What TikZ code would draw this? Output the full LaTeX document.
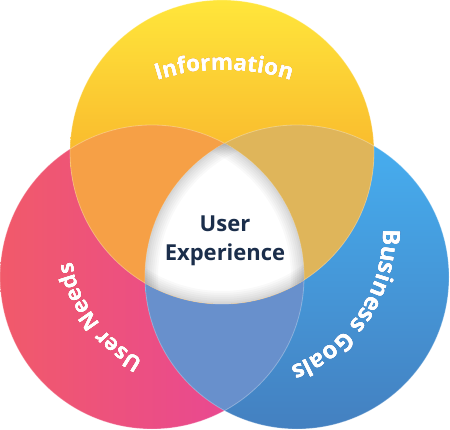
\documentclass[tikz,border=0pt]{standalone}
\usepackage{fontspec}
\newfontfamily\osb{Open Sans}
\usetikzlibrary{decorations.text}
\definecolor{yelTop}{HTML}{FFE63B}
\definecolor{yelMid}{HTML}{F8A22C}
\definecolor{yelBot}{HTML}{F39020}
\definecolor{pinkL}{HTML}{F15A6A}
\definecolor{pinkR}{HTML}{E6439E}
\definecolor{blueT}{HTML}{46B0F2}
\definecolor{blueB}{HTML}{4480C0}
\definecolor{ovTL}{HTML}{F6A046}
\definecolor{ovTR}{HTML}{DFB55A}
\definecolor{ovLR}{HTML}{6890CC}
\definecolor{navy}{HTML}{1B2E4B}
\definecolor{outOr}{HTML}{EC9A22}
\definecolor{outRed}{HTML}{D8202F}
\definecolor{outBlue}{HTML}{1E5FB0}
% #1 centre, #2 radius, #3 start angle, #4 end angle, #5 text, #6 outline colour, #7 font size
\newcommand\arctext[7]{%
  \foreach \dx/\dy in {0.9/0,-0.9/0,0/0.9,0/-0.9,0.7/0.7,-0.7/0.7,0.7/-0.7,-0.7/-0.7}{%
    \path[shift={(\dx,\dy)},decorate,decoration={text along path,text align=center,
      text={|\osb\bfseries\fontsize{#7}{#7}\selectfont\color{#6}|#5}}]
      (#1) ++(#3:#2) arc[start angle=#3,end angle=#4,radius=#2];
  }%
  \foreach \dx/\dy in {0.3/0,-0.3/0,0/0}{%
    \path[shift={(\dx,\dy)},decorate,decoration={text along path,text align=center,
      text={|\osb\bfseries\fontsize{#7}{#7}\selectfont\color{white}|#5}}]
      (#1) ++(#3:#2) arc[start angle=#3,end angle=#4,radius=#2];
  }%
}
\begin{document}
\begin{tikzpicture}[x=1pt,y=1pt,
  ring/.style={white,opacity=0.3,line width=0.8pt},
  uxtext/.style={anchor=base,text=navy,font=\osb\bfseries\fontsize{22}{26}\selectfont,inner sep=0}]
\useasboundingbox (0,0) rectangle (450,-430);
\coordinate (T) at (222,-152);
\coordinate (L) at (152,-277);
\coordinate (R) at (297,-277);
\def\rr{152pt}
% base circles
\shade[left color=pinkL,right color=pinkR] (L) circle[radius=\rr];
\shade[top color=blueT,bottom color=blueB] (R) circle[radius=\rr];
\begin{scope}
  \clip (L) circle[radius=\rr];
  \fill[ovLR] (R) circle[radius=\rr];
\end{scope}
\shade[top color=yelTop,middle color=yelMid,bottom color=yelBot] (T) circle[radius=\rr];
\begin{scope}
  \clip (T) circle[radius=\rr];
  \fill[ovTL] (L) circle[radius=\rr];
  \fill[ovTR] (R) circle[radius=\rr];
\end{scope}
% faint edges
\draw[ring] (L) circle[radius=\rr];
\draw[ring] (R) circle[radius=\rr];
\draw[ring] (T) circle[radius=\rr];
% center region with inner shadow
\begin{scope}
  \clip (T) circle[radius=\rr];
  \clip (L) circle[radius=\rr];
  \clip (R) circle[radius=\rr];
  \fill[white] (0,0) rectangle (450,-430);
  \foreach \w in {26,22,18,14,10,6,3}{
    \draw[black,opacity=0.025,line width=\w pt] (T) circle[radius=\rr];
    \draw[black,opacity=0.025,line width=\w pt] (L) circle[radius=\rr];
    \draw[black,opacity=0.025,line width=\w pt] (R) circle[radius=\rr];
  }
\end{scope}
% center text
\node[uxtext] (ux1) at (225,-232) {User};
\node[uxtext] (ux2) at (225,-261) {Experience};
% curved labels
\coordinate (cI) at (224,-290);
\coordinate (cB) at (242,-234);
\coordinate (cU) at (210,-237);
\arctext{cI}{220pt}{135}{45}{Information}{outOr}{22.5}
\arctext{cB}{141pt}{36}{-104}{Business Goals}{outBlue}{24}
\arctext{cU}{140pt}{282}{150}{User Needs}{outRed}{22}
\end{tikzpicture}
\end{document}
